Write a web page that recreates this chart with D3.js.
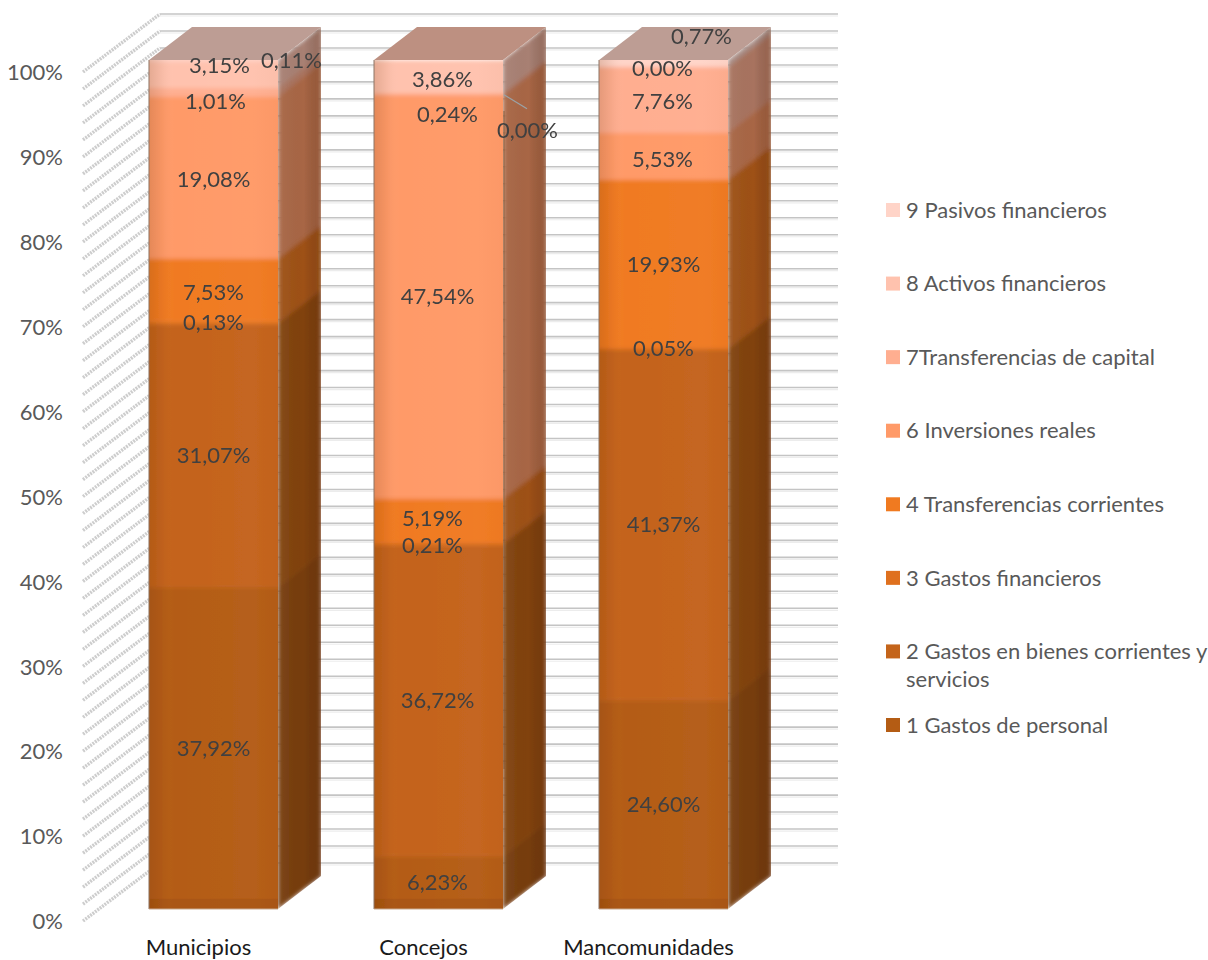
<!DOCTYPE html>
<html><head><meta charset="utf-8">
<script src="https://cdn.jsdelivr.net/npm/d3@7"></script>
<style>html,body{margin:0;background:#fff}svg{display:block}text{font-family:Lato,"Open Sans",sans-serif}</style>
</head><body><svg id="c" width="1208" height="960"></svg>
<script>
const categories = ["Municipios","Concejos","Mancomunidades"];
const seriesNames = ["1 Gastos de personal","2 Gastos en bienes corrientes y servicios","3 Gastos financieros","4 Transferencias corrientes","6 Inversiones reales","7Transferencias de capital","8 Activos financieros","9 Pasivos financieros"];
const municipios = [37.92,31.07,0.13,7.53,19.08,1.01,3.15,0.11];
const concejos = [6.23,36.72,0.21,5.19,47.54,0.24,3.86,0.00];
const mancomunidades = [24.60,41.37,0.05,19.93,5.53,7.76,0.00,0.77];
const seriesColors = ["#b45c14","#c4641a","#df701e","#f07a20","#ff9a68","#ffae90","#ffc2ae","#ffd4c8"];
const yTicks = [0,10,20,30,40,50,60,70,80,90,100];
// label nudges [dx, dy] per category, per series
const nudgeMunicipios = [[0,0],[0,0],[0,0],[0,2],[0,2],[2,9],[6,-9],[78,0]];
const nudgeConcejos = [[-1,0],[-1,0],[-6,2],[-6,-2],[-1,0],[9,20],[4,3],[89,70]];
const nudgeMancomunidades = [[0,0],[0,0],[0,0],[0,0],[-1,3],[-1,2],[-1,2],[38,-27]];

const svg = d3.select("#c");
const defs = svg.append("defs");
const blur = (id,s)=>defs.append("filter").attr("id",id).attr("x","-5%").attr("y","-5%").attr("width","110%").attr("height","110%")
  .append("feGaussianBlur").attr("stdDeviation",s);
blur("b1",2.2); blur("b2",0.6); blur("b3",0.45);
const grad = (id,x2,y2,stops)=>{const g=defs.append("linearGradient").attr("id",id).attr("x1",0).attr("y1",0).attr("x2",x2).attr("y2",y2);
  stops.forEach(s=>g.append("stop").attr("offset",s[0]).attr("stop-color",s[1]).attr("stop-opacity",s[2]));};
grad("fh",1,0,[[0,"#5a2a00",.16],[.1,"#5a2a00",.05],[.2,"#ffffff",0],[.8,"#ffffff",.02],[1,"#5a2a00",.02]]);
grad("sh",1,0,[[0,"#ffffff",.06],[.6,"#000000",0],[1,"#5a2000",.22]]);

const W = {l:101,r:776}, depthX = 43, depthY = -33;
const x = d3.scaleBand().domain(categories).range([W.l,W.r]).paddingInner(.4267).paddingOuter(.2133);
const y = d3.scaleLinear().domain([0,100]).range([909,60]);
const legendY = d3.scalePoint().domain(seriesNames.slice().reverse()).range([210,725]);

const valuesBy = {Municipios:municipios,Concejos:concejos,Mancomunidades:mancomunidades};
const nudgesBy = {Municipios:nudgeMunicipios,Concejos:nudgeConcejos,Mancomunidades:nudgeMancomunidades};
const table = categories.map(c=>{const r={category:c};seriesNames.forEach((s,i)=>r[s]=valuesBy[c][i]);return r;});
const stacked = d3.stack().keys(seriesNames)(table);
const color = d3.scaleOrdinal().domain(seriesNames).range(seriesColors);

// walls
const minor = d3.range(0,101,2);
const wall = svg.append("g").attr("filter","url(#b3)");
wall.selectAll("line.h").data(minor).join("line").attr("class","h")
  .attr("x1",160).attr("x2",838).attr("y1",d=>y(d)-46).attr("y2",d=>y(d)-46)
  .attr("stroke","#c4c4c4").attr("stroke-width",1.6);
wall.selectAll("line.h2").data(minor).join("line").attr("class","h2")
  .attr("x1",160).attr("x2",838).attr("y1",d=>y(d)-44).attr("y2",d=>y(d)-44)
  .attr("stroke","#ececec").attr("stroke-width",1.2);
wall.selectAll("line.d").data(minor).join("line").attr("class","d")
  .attr("x1",83).attr("x2",160).attr("y1",d=>y(d)+12).attr("y2",d=>y(d)-46)
  .attr("stroke","#b8b8b8").attr("stroke-width",3.4).attr("stroke-dasharray","2 1").attr("opacity",.7);

// y labels
svg.append("g").selectAll("text").data(yTicks).join("text")
  .attr("x",63).attr("y",d=>y(d)+12.5).attr("dy","0.35em").attr("text-anchor","end")
  .attr("font-size",22).attr("fill","#595959").text(d=>d+"%");

// bars
const w = x.bandwidth();
const bars = svg.append("g");
categories.forEach((c,ci)=>{
  const g = bars.append("g").attr("filter","url(#b2)");
  const X = x(c);
  const segs = stacked.map(s=>({key:s.key,y0:s[ci][0],y1:Math.min(100,s[ci][1])})).filter(d=>d.y1>d.y0);
  const dark = (col,k)=>{const q=d3.rgb(col);return d3.rgb(q.r*k,q.g*k,q.b*k).formatHex();};
  const clipId = "cl"+ci;
  defs.append("clipPath").attr("id",clipId).append("rect").attr("x",X).attr("y",y(100)).attr("width",w).attr("height",y(0)-y(100));
  const sideClip = "sc"+ci;
  defs.append("clipPath").attr("id",sideClip).append("path").attr("d",()=>{const p=d3.path(),a=X+w;p.moveTo(a,y(100));p.lineTo(a+depthX,y(100)+depthY);p.lineTo(a+depthX,y(0)+depthY);p.lineTo(a,y(0));p.closePath();return p.toString();});
  const sg = g.append("g").attr("clip-path",`url(#${sideClip})`).append("g").attr("filter","url(#b1)");
  sg.selectAll("path.side").data(segs).join("path").attr("class","side")
    .attr("d",d=>{const p=d3.path(),a=X+w;p.moveTo(a,y(d.y1));p.lineTo(a+depthX,y(d.y1)+depthY);p.lineTo(a+depthX,y(d.y0)+depthY);p.lineTo(a,y(d.y0));p.closePath();return p.toString();})
    .attr("fill",d=>dark(color(d.key),.66)).attr("stroke",d=>dark(color(d.key),.66));
  const top = segs[segs.length-1];
  g.append("path").attr("d",()=>{const p=d3.path(),t=y(100);p.moveTo(X,t);p.lineTo(X+depthX,t+depthY);p.lineTo(X+w+depthX,t+depthY);p.lineTo(X+w,t);p.closePath();return p.toString();})
    .attr("fill",dark(color(top.key),.74));
  g.append("path").attr("d",()=>{const p=d3.path(),a=X+w;p.moveTo(a,y(100));p.lineTo(a+depthX,y(100)+depthY);p.lineTo(a+depthX,y(0)+depthY);p.lineTo(a,y(0));p.closePath();return p.toString();})
    .attr("fill","url(#sh)");
  const fg = g.append("g").attr("clip-path",`url(#${clipId})`).append("g").attr("filter","url(#b1)");
  fg.selectAll("rect").data(segs).join("rect")
    .attr("x",X-6).attr("width",w+12).attr("y",d=>d.y1>=100?y(100)-6:y(d.y1)).attr("height",d=>y(d.y0)-y(d.y1)+(d.y1>=100?6:0)+(d.y0<=0?6:0)+.5)
    .attr("fill",d=>color(d.key));
  g.append("rect").attr("x",X).attr("width",w).attr("y",y(100)).attr("height",y(0)-y(100)).attr("fill","url(#fh)");
  g.append("rect").attr("x",X).attr("width",w).attr("y",y(1.2)).attr("height",y(0)-y(1.2)).attr("fill","#5a2a00").attr("opacity",.1);
  g.append("line").attr("x1",X).attr("x2",X).attr("y1",y(100)).attr("y2",y(0)).attr("stroke","#8c7464").attr("stroke-width",1);
  g.append("line").attr("x1",X).attr("x2",X+w).attr("y1",y(0)).attr("y2",y(0)).attr("stroke","#c9a98f").attr("stroke-width",1);
});

// leader and edge line in Concejos
const cRight = x("Concejos")+w;
svg.append("line").attr("x1",cRight+1).attr("y1",y(95.9)).attr("x2",cRight+24).attr("y2",y(95.9)+14)
  .attr("stroke","#9aa3a8").attr("stroke-width",1.2);
svg.append("line").attr("x1",cRight+1).attr("y1",y(94)).attr("x2",cRight+1).attr("y2",y(16.5))
  .attr("stroke","#7a4a22").attr("stroke-width",1.2).attr("opacity",.6);

// data labels
const lab = svg.append("g").attr("filter","url(#b3)");
categories.forEach((c,ci)=>{
  stacked.forEach((s,si)=>{
    const n = nudgesBy[c][si];
    lab.append("text")
      .attr("x",x(c)+w/2+n[0]).attr("y",y((s[ci][0]+Math.min(100,s[ci][1]))/2)+n[1])
      .attr("dy","0.35em").attr("text-anchor","middle").attr("font-size",22).attr("fill","#404040")
      .text(valuesBy[c][si].toFixed(2).replace(".",",")+"%");
  });
});

// category labels
svg.append("g").selectAll("text").data(categories).join("text")
  .attr("x",d=>x(d)+w/2-15).attr("y",955).attr("text-anchor","middle")
  .attr("font-size",22).attr("fill","#1a1a1a").text(d=>d);

// legend
const lg = svg.append("g").selectAll("g").data(seriesNames).join("g")
  .attr("transform",d=>`translate(886,${legendY(d)})`);
lg.append("rect").attr("y",-7).attr("width",14).attr("height",14).attr("fill",d=>color(d));
lg.each(function(d){
  const t = d3.select(this).append("text").attr("x",20).attr("font-size",22).attr("fill","#595959").attr("dy","0.35em");
  const m = d.match(/^(.*corrientes y) (servicios)$/);
  if(m){t.append("tspan").attr("x",20).text(m[1]);t.append("tspan").attr("x",20).attr("dy",28).text(m[2]);}
  else t.text(d);
});
</script></body></html>
